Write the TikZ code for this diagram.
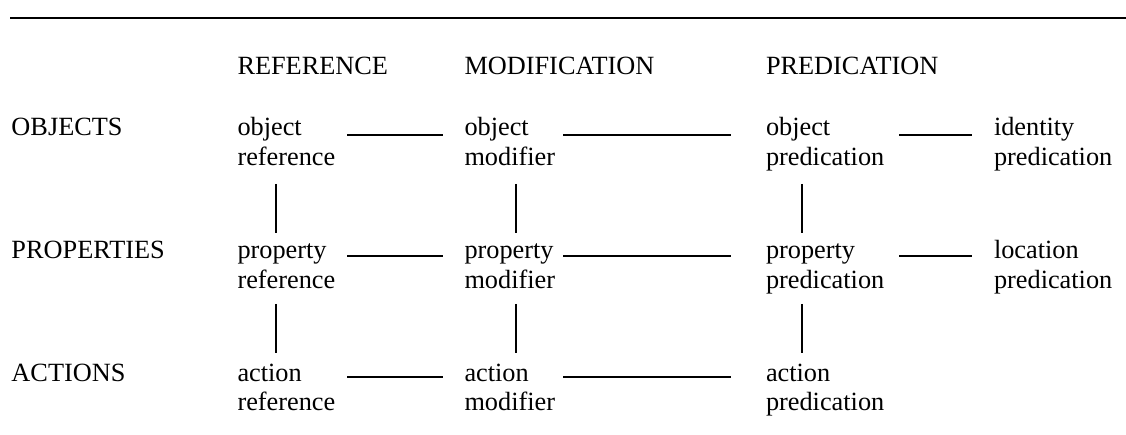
\documentclass[tikz,border=0pt]{standalone}
\usepackage{fontspec}
\setmainfont{Liberation Serif}
\usetikzlibrary{calc}

% two stacked words; the box's baseline is that of the first word
\newcommand\cellpair[2]{\vtop{\hbox{#1}\hbox{#2}}}

\tikzset{
  lbl/.style={anchor=base west, inner sep=0pt, outer sep=0pt,
              font=\fontsize{26.3}{29.8}\selectfont},
  link/.style={line width=1.3pt, line cap=butt},
  rule/.style={line width=2pt}
}

\begin{document}
\begin{tikzpicture}[x=1pt, y=-1pt]
  \useasboundingbox (0,0) rectangle (1126,435);

  % top rule
  \coordinate (ruleL) at (10,18.5);
  \coordinate (ruleR) at (1126,18.5);
  \draw[rule] (ruleL) -- (ruleR);

  % column heads
  \node[lbl] (hRef)  at (237.5,75) {REFERENCE};
  \node[lbl] (hMod)  at (464.5,75) {MODIFICATION};
  \node[lbl] (hPred) at (766,75)   {PREDICATION};

  % row heads
  \node[lbl] (rObj)  at (11.5,136) {OBJECTS};
  \node[lbl] (rProp) at (11.5,259) {PROPERTIES};
  \node[lbl] (rAct)  at (11.5,381) {ACTIONS};

  % objects
  \node[lbl] (objRef)  at (237.5,136) {\cellpair{object}{reference}};
  \node[lbl] (objMod)  at (464.5,136) {\cellpair{object}{modifier}};
  \node[lbl] (objPred) at (766,136)   {\cellpair{object}{predication}};
  \node[lbl] (idPred)  at (994,136)   {\cellpair{identity}{predication}};

  % properties
  \node[lbl] (propRef)  at (237.5,259) {\cellpair{property}{reference}};
  \node[lbl] (propMod)  at (464.5,259) {\cellpair{property}{modifier}};
  \node[lbl] (propPred) at (766,259)   {\cellpair{property}{predication}};
  \node[lbl] (locPred)  at (994,259)   {\cellpair{location}{predication}};

  % actions
  \node[lbl] (actRef)  at (237.5,381) {\cellpair{action}{reference}};
  \node[lbl] (actMod)  at (464.5,381) {\cellpair{action}{modifier}};
  \node[lbl] (actPred) at (766,381)   {\cellpair{action}{predication}};

  % horizontal links, row by row
  \foreach \row/\y in {obj/135, prop/256, act/377}{
    \coordinate (\row A1) at (347,\y);   \coordinate (\row B1) at (443,\y);
    \coordinate (\row A2) at (563,\y);   \coordinate (\row B2) at (731,\y);
  }
  \coordinate (objA3)  at (899,135);  \coordinate (objB3)  at (971.5,135);
  \coordinate (propA3) at (899,256);  \coordinate (propB3) at (971.5,256);

  \draw[link] (objA1) -- (objB1);   \draw[link] (objA2) -- (objB2);
  \draw[link] (objA3) -- (objB3);
  \draw[link] (propA1) -- (propB1); \draw[link] (propA2) -- (propB2);
  \draw[link] (propA3) -- (propB3);
  \draw[link] (actA1) -- (actB1);   \draw[link] (actA2) -- (actB2);

  % vertical links between rows
  \foreach \x/\c in {276/1, 516/2, 802/3}{
    \coordinate (vTop\c) at (\x,184); \coordinate (vMid\c) at (\x,233);
    \coordinate (wTop\c) at (\x,304); \coordinate (wBot\c) at (\x,353);
    \draw[link] (vTop\c) -- (vMid\c);
    \draw[link] (wTop\c) -- (wBot\c);
  }
\end{tikzpicture}
\end{document}
